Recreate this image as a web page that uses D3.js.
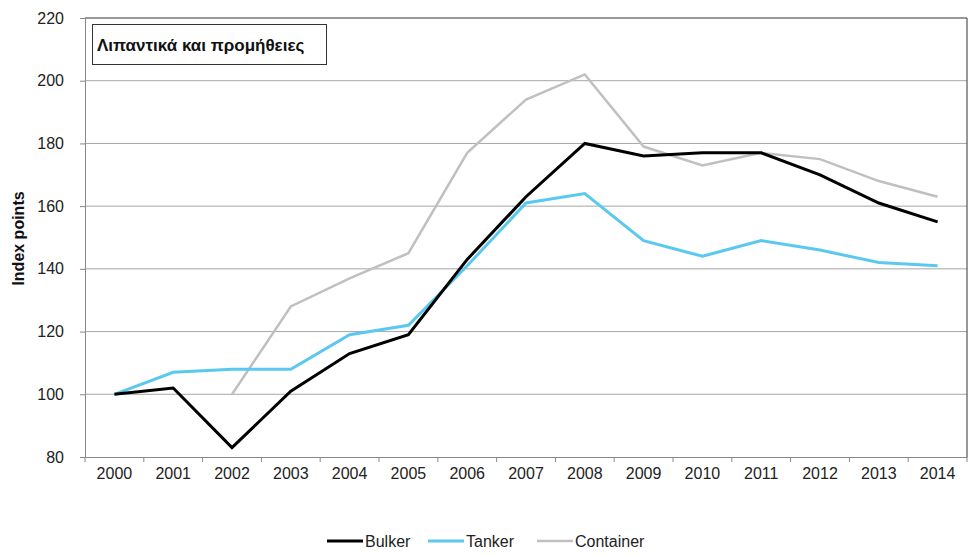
<!DOCTYPE html>
<html><head><meta charset="utf-8">
<script src="https://cdn.jsdelivr.net/npm/d3@7"></script>
<style>body{margin:0;background:#fff;font-family:"Liberation Sans",Arial,sans-serif;}</style>
</head><body><svg id="c" width="971" height="556"></svg>
<script>
const years = ["2000","2001","2002","2003","2004","2005","2006","2007","2008","2009","2010","2011","2012","2013","2014"];
const bulker = [100,102,83,101,113,119,143,163,180,176,177,177,170,161,155];
const tanker = [100,107,108,108,119,122,141,161,164,149,144,149,146,142,141];
const container = [null,null,100,128,137,145,177,194,202,179,173,177,175,168,163];
const yTicks = [80,100,120,140,160,180,200,220];
const seriesNames = ["Bulker","Tanker","Container"];
const seriesColors = ["#000000","#5bc8f0","#c0c0c0"];
const seriesWidths = [3,3,2.5];
const titleText = "Λιπαντικά και προμήθειες";

const FS = 16;
const svg = d3.select("#c");
const L=85, R=967, T=18, B=457;
const x = d3.scaleBand().domain(years).range([L,R]);
const y = d3.scaleLinear().domain([80,220]).range([B,T]);

// gridlines
svg.append("g").selectAll("line").data(yTicks.slice(1,-1)).join("line")
  .attr("x1",L).attr("x2",R).attr("y1",d=>y(d)).attr("y2",d=>y(d))
  .attr("stroke","#a6a6a6").attr("stroke-width",1);

// frame
svg.append("line").attr("x1",L).attr("x2",R).attr("y1",T).attr("y2",T).attr("stroke","#333").attr("stroke-width",1);
svg.append("line").attr("x1",R).attr("x2",R).attr("y1",T).attr("y2",B).attr("stroke","#333").attr("stroke-width",1);

// y axis
const ya = svg.append("g").attr("transform",`translate(${L},0)`)
  .call(d3.axisLeft(y).tickValues(yTicks).tickSize(5).tickPadding(16));
ya.select(".domain").attr("stroke","#888");
ya.selectAll(".tick line").attr("stroke","#888");
ya.selectAll(".tick text").attr("font-size",FS).attr("fill","#222").attr("font-family","Liberation Sans, Arial, sans-serif");

// x axis
const xa = svg.append("g").attr("transform",`translate(0,${B})`)
  .call(d3.axisBottom(x).tickSize(0).tickPadding(11));
xa.select(".domain").attr("stroke","#888");
xa.selectAll(".tick text").attr("font-size",FS).attr("fill","#222").attr("font-family","Liberation Sans, Arial, sans-serif");
// category separators
svg.append("g").selectAll("line").data(years.concat(["end"])).join("line")
  .attr("x1",(d,i)=>L+i*x.step()).attr("x2",(d,i)=>L+i*x.step())
  .attr("y1",B).attr("y2",B+5).attr("stroke","#888");

// y title
svg.append("text").attr("transform",`translate(24,${(T+B)/2+1}) rotate(-90)`)
  .attr("text-anchor","middle").attr("font-size",FS).attr("font-weight","bold").attr("fill","#111")
  .text("Index points");

// lines
const data = [bulker,tanker,container];
const line = d3.line().defined(d=>d.v!=null).x(d=>x(d.yr)+x.bandwidth()/2).y(d=>y(d.v));
[2,1,0].forEach(k=>{
  svg.append("path").datum(years.map((yr,i)=>({yr,v:data[k][i]})))
    .attr("d",line).attr("fill","none").attr("stroke",seriesColors[k])
    .attr("stroke-width",seriesWidths[k]).attr("stroke-linejoin","miter");
});

// title box
svg.append("rect").attr("x",92.5).attr("y",24.5).attr("width",234).attr("height",40)
  .attr("fill","#fff").attr("stroke","#333").attr("stroke-width",1);
svg.append("text").attr("x",97).attr("y",51).attr("font-size",17).attr("font-weight","bold").attr("fill","#111")
  .text(titleText);

// legend
const lx = [327,428,537];
const lg = svg.append("g");
seriesNames.forEach((n,i)=>{
  lg.append("line").attr("x1",lx[i]).attr("x2",lx[i]+36).attr("y1",541).attr("y2",541)
    .attr("stroke",seriesColors[i]).attr("stroke-width",seriesWidths[i]);
  lg.append("text").attr("x",lx[i]+38).attr("y",547).attr("font-size",FS).attr("fill","#222").text(n);
});
</script></body></html>
